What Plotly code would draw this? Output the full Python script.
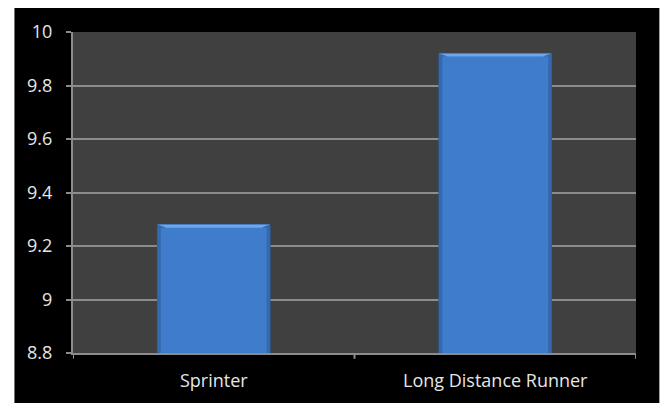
import plotly.graph_objects as go

# Chart data
categories = ["Sprinter", "Long Distance Runner"]
values = [9.28, 9.92]
y_ticks = [8.8, 9, 9.2, 9.4, 9.6, 9.8, 10]
y_tick_labels = ["8.8", "9", "9.2", "9.4", "9.6", "9.8", "10"]

BAR_COLOR = "#3f7dcc"
EDGE_COLOR = "#2b5892"
GRID_COLOR = "#8c8c8c"
TEXT_COLOR = "#e6e6e6"
FONT = "Open Sans"
FONT_SIZE = 18

fig = go.Figure(
    go.Bar(
        x=categories,
        y=values,
        marker=dict(color=BAR_COLOR, line=dict(color=EDGE_COLOR, width=1)),
        hoverinfo="x+y",
    )
)

# Bevelled top edge of each bar: a lighter strip along the top
bar_half = 0.2
bevel_y = 0.012
bevel_x = 0.03
shapes = []
for i, v in enumerate(values):
    x0, x1 = i - bar_half, i + bar_half
    shapes.append(dict(
        type="path", xref="x", yref="y", layer="above",
        path=(f"M {x0},{v} L {x1},{v} L {x1 - bevel_x},{v - bevel_y} "
              f"L {x0 + bevel_x},{v - bevel_y} Z"),
        fillcolor="#6da6ea", line=dict(width=0),
    ))
    # Darker side bevels
    for xs, sgn in ((x1, -1), (x0, 1)):
        shapes.append(dict(
            type="path", xref="x", yref="y", layer="above",
            path=(f"M {xs},{v} L {xs},8.8 L {xs + sgn * 0.012},8.8 "
                  f"L {xs + sgn * 0.012},{v - bevel_y} "
                  f"L {xs + sgn * bevel_x},{v - bevel_y} Z"),
            fillcolor="#3569ae", line=dict(width=0),
        ))

# White page border around the black chart frame
for x0, x1, y0, y1 in [(-0.2, -0.104, -0.3, 1.2), (1.0415, 1.1, -0.3, 1.2),
                       (-0.2, 1.1, 1.075, 1.2)]:
    shapes.append(dict(type="rect", xref="paper", yref="paper",
                       x0=x0, x1=x1, y0=y0, y1=y1, layer="below",
                       fillcolor="white", line=dict(width=0)))

fig.update_layout(
    width=663,
    height=403,
    margin=dict(l=73, r=27, t=32, b=50),
    paper_bgcolor="black",
    plot_bgcolor="#404040",
    bargap=0.6,
    showlegend=False,
    font=dict(family=FONT, size=FONT_SIZE, color=TEXT_COLOR),
    shapes=shapes,
    xaxis=dict(
        showgrid=False,
        showline=True, linecolor=GRID_COLOR, linewidth=2,
        ticks="", tickfont=dict(size=FONT_SIZE, color=TEXT_COLOR),
        ticklabelstandoff=10,
        range=[-0.5, 1.5],
    ),
    yaxis=dict(
        range=[8.8, 10],
        tickvals=y_ticks, ticktext=y_tick_labels,
        showgrid=True, gridcolor=GRID_COLOR, gridwidth=2,
        showline=True, linecolor=GRID_COLOR, linewidth=2,
        ticks="outside", ticklen=5, tickcolor=GRID_COLOR, tickwidth=2,
        tickfont=dict(size=FONT_SIZE, color=TEXT_COLOR),
        ticklabelstandoff=10,
        zeroline=False,
    ),
)

# Category boundary tick marks on the x axis
for xb in [-0.5, 0.5, 1.5]:
    fig.add_shape(type="line", xref="x", yref="paper", x0=xb, x1=xb,
                  y0=0, y1=-0.018, line=dict(color=GRID_COLOR, width=2))

fig.write_html("out.html")
